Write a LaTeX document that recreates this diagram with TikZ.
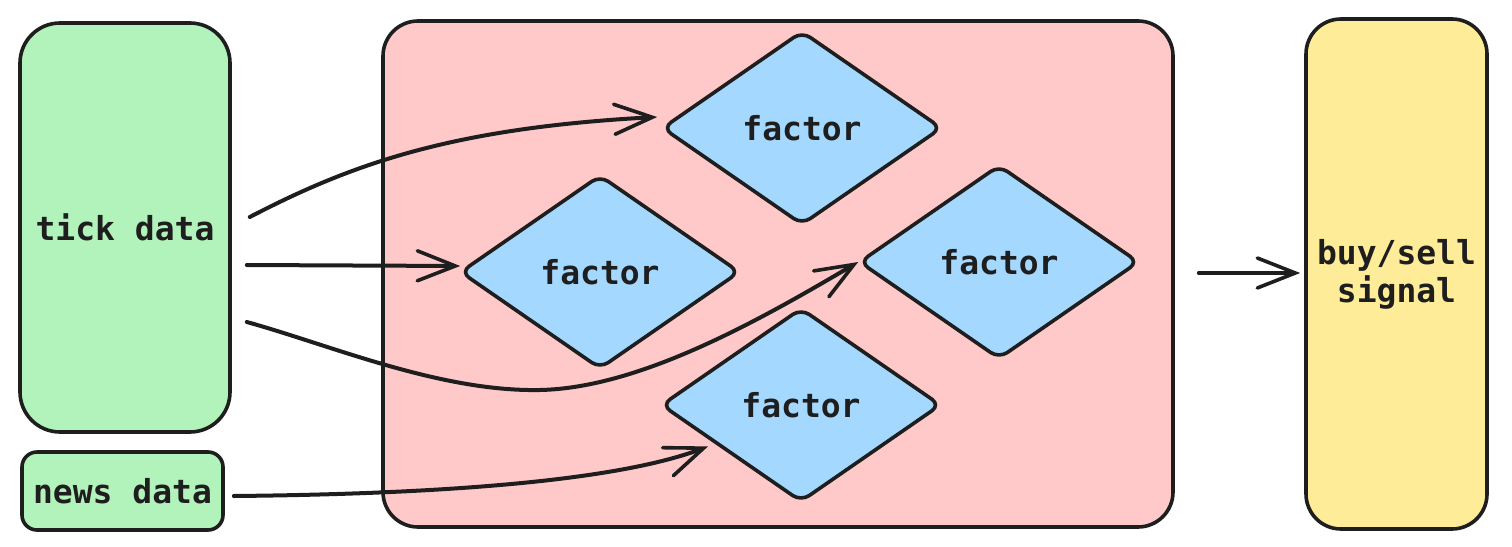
\documentclass[tikz,border=0pt]{standalone}
\usepackage{fontspec}
\setmonofont{DejaVu Sans Mono}
\usetikzlibrary{shapes.geometric,arrows.meta,calc}
\definecolor{ink}{HTML}{1E1E1E}
\definecolor{gfill}{HTML}{B2F2BB}
\definecolor{rfill}{HTML}{FFC9C9}
\definecolor{bfill}{HTML}{A5D8FF}
\definecolor{yfill}{HTML}{FFEC99}
\begin{document}
\begin{tikzpicture}[x=1pt,y=-1pt,
  lbl/.style={font=\ttfamily\bfseries\fontsize{33}{38}\selectfont, text=ink},
  box/.style={draw=ink,line width=3.6pt,rounded corners=#1,inner sep=0pt},
  fac/.style={diamond,draw=ink,fill=bfill,line width=3.6pt,rounded corners=10pt,
    minimum width=280pt,minimum height=194pt,inner sep=0pt,lbl},
  conn/.style={draw=ink,line width=4pt,line cap=round,
    -{Straight Barb[length=38pt,width=30pt,line width=3.6pt,line cap=round]}}]
\useasboundingbox (0,0) rectangle (1512,546);
\node[box=40pt,fill=gfill,minimum width=210pt,minimum height=409pt,lbl] (tick) at (125,227.5) {tick data};
\node[box=15pt,fill=gfill,minimum width=201pt,minimum height=78pt,lbl] (news) at (122.5,491) {news data};
\node[box=35pt,fill=rfill,minimum width=790pt,minimum height=506pt] (mod) at (778,274) {};
\node[box=35pt,fill=yfill,minimum width=181pt,minimum height=510pt,lbl,align=center] (sig) at (1396.5,274) {buy/sell\\signal};
\node[fac] (d1) at (802,128) {factor};
\node[fac] (d2) at (600,272) {factor};
\node[fac] (d3) at (999,262) {factor};
\node[fac] (d4) at (801,405) {factor};
\coordinate (a1s) at ([shift={(18,-10.5)}]tick.east);
\coordinate (a2s) at ([shift={(15,37.5)}]tick.east);
\coordinate (a3s) at ([shift={(15,94.5)}]tick.east);
\coordinate (a4s) at ([shift={(9,5)}]news.east);
\coordinate (a5s) at ([shift={(24,-1)}]mod.east);
\coordinate (a1e) at ([shift={(-3,-11)}]d1.west);
\coordinate (a2e) at ([shift={(2,-6)}]d2.west);
\coordinate (a3e) at ([shift={(1,0)}]d3.west);
\coordinate (a4e) at ([shift={(-22,-8)}]d4.south west);
\coordinate (a5e) at ([shift={(-4,-1)}]sig.west);
\draw[conn] (a1s) .. controls (350,165) and (450,128) .. (a1e);
\draw[conn] (a2s) -- (a2e);
\draw[conn] (a3s) .. controls (330,345) and (440,392) .. (540,390) .. controls (640,388) and (760,320) .. (a3e);
\draw[conn] (a4s) .. controls (450,494) and (620,480) .. (a4e);
\draw[conn] (a5s) -- (a5e);
\end{tikzpicture}
\end{document}
